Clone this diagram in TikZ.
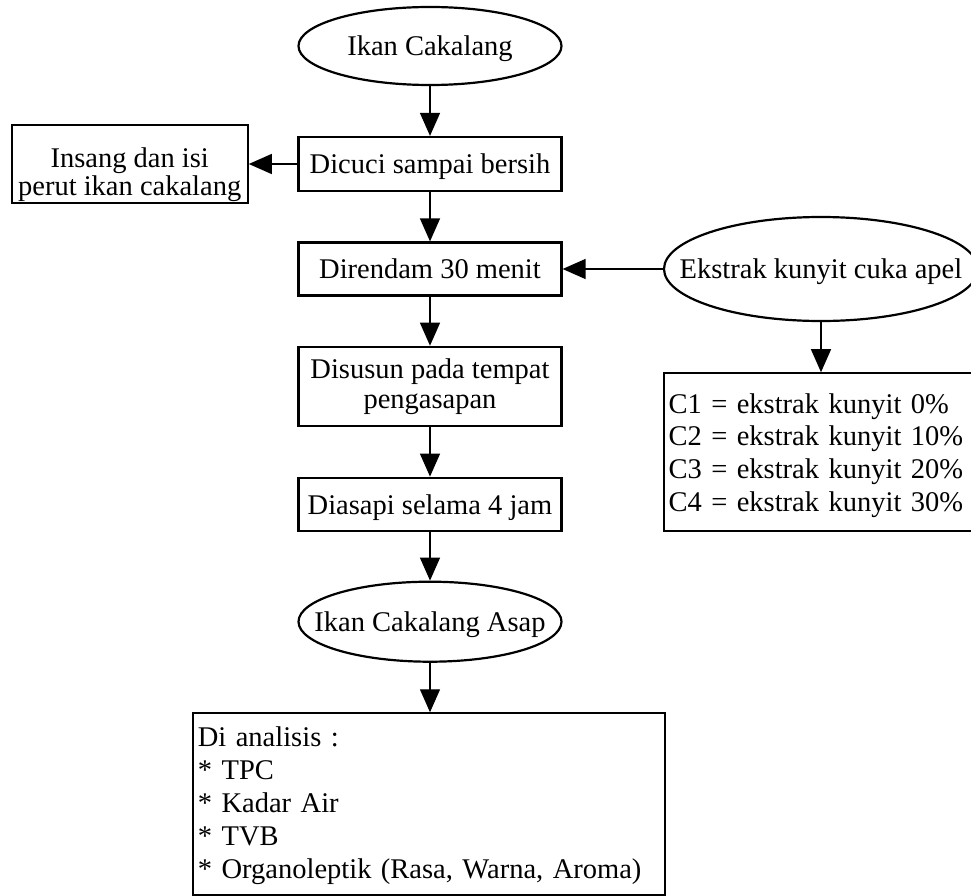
\documentclass[tikz,border=0pt]{standalone}
\usepackage{fontspec}
\setmainfont{Liberation Serif}
\usetikzlibrary{shapes.geometric,arrows.meta}
\begin{document}
\begin{tikzpicture}[x=1pt,y=-1pt,
  box/.style={draw,line width=2.2pt,rectangle,inner sep=0pt,align=center,minimum width=263pt,font=\fontsize{28.5}{30}\selectfont},
  oneline/.style={text depth=0pt},
  oval/.style={draw,line width=2.2pt,ellipse,inner sep=0pt,text depth=0pt,font=\fontsize{28.5}{29}\selectfont},
  conn/.style={line width=1.3pt,-{Triangle[length=23pt,width=20pt]}},
  listbox/.style={draw,line width=2.2pt,rectangle,inner xsep=4.5pt,inner ysep=0pt,align=left,font=\fontsize{28.5}{33}\selectfont}]
\useasboundingbox (0,0) rectangle (971,896);
\clip (0,0) rectangle (971,896);
\node[oval,minimum width=263pt,minimum height=78pt] (ikan) at (430,46) {\makebox[0pt]{Ikan Cakalang}};
\node[box,oneline,minimum height=54pt] (cuci) at (430,164) {Dicuci sampai bersih};
\node[box,minimum width=236pt,minimum height=78pt,font=\fontsize{28.5}{28}\selectfont] (insang) at (129.7,164) {\rule{0pt}{40.8pt}Insang dan isi\\perut ikan cakalang};
\node[box,oneline,minimum height=53pt] (rendam) at (430,269) {Direndam 30 menit};
\node[oval,minimum width=314pt,minimum height=104pt] (ekstrak) at (821,269) {\makebox[0pt]{Ekstrak kunyit cuka apel}};
\node[listbox,text width=311pt,minimum height=157.4pt,font=\fontsize{28.5}{32.7}\selectfont] (cbox) at (824,452) {\rule{0pt}{26.6pt}C1 = ekstrak kunyit 0\%\\C2 = ekstrak kunyit 10\%\\C3 = ekstrak kunyit 20\%\\C4 = ekstrak kunyit 30\%};
\node[box,minimum height=79pt] (susun) at (430,386.3) {Disusun pada tempat\\pengasapan};
\node[box,oneline,minimum height=53pt] (asapi) at (430,504.2) {Diasapi selama 4 jam};
\node[oval,minimum width=263pt,minimum height=80pt] (asap) at (430,621.7) {\makebox[0pt]{Ikan Cakalang Asap}};
\node[listbox,text width=462.7pt,minimum height=181.7pt] (analisis) at (429.2,804.2) {\rule{0pt}{23.2pt}Di analisis :\\{*} TPC\\{*} Kadar Air\\{*} TVB\\{*} Organoleptik (Rasa, Warna, Aroma)};
\draw[conn] (ikan) -- (cuci);
\draw[conn] (cuci) -- (insang);
\draw[conn] (cuci) -- (rendam);
\draw[conn] (ekstrak) -- (rendam);
\draw[conn] (ekstrak.south) -- (ekstrak.south |- cbox.north);
\draw[conn] (rendam) -- (susun);
\draw[conn] (susun) -- (asapi);
\draw[conn] (asapi) -- (asap);
\draw[conn] (asap.south) -- (asap.south |- analisis.north);
\end{tikzpicture}
\end{document}
